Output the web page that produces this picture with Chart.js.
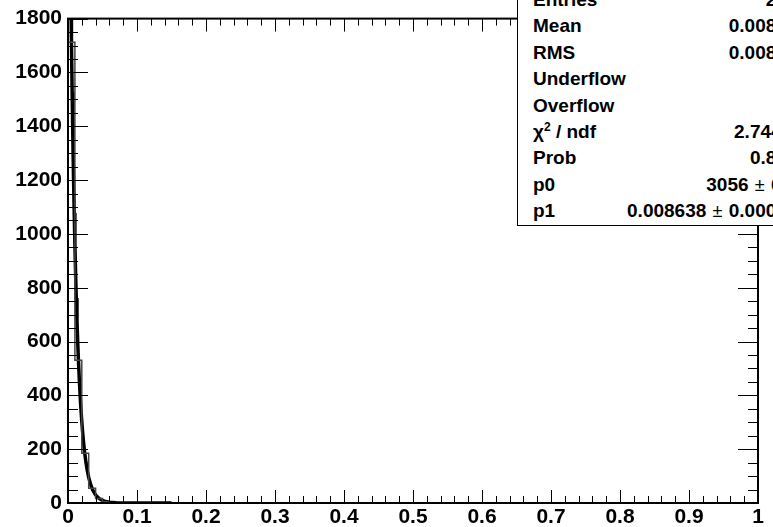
<!DOCTYPE html>
<html>
<head>
<meta charset="utf-8">
<script src="https://cdn.jsdelivr.net/npm/chart.js@4.4.1/dist/chart.umd.min.js"></script>
<style>
  html, body { margin: 0; padding: 0; background: #fff; overflow: hidden; }
  #wrap { position: relative; width: 773px; height: 527px; overflow: hidden; }
  #stats {
    position: absolute; left: 517px; top: -14px; width: 298px;
    background: #fff; border: 1.5px solid #000; box-sizing: border-box;
    padding: 0 6px 0 15px;
    font: bold 19px 'Liberation Sans', Arial, sans-serif; color: #000;
  }
  #stats .row { display: flex; justify-content: space-between; height: 26.4px; line-height: 26.4px; white-space: nowrap; }
  #stats .pm { font-weight: normal; font-size: 18px; margin: 0 1px; }
  #stats sup { font-size: 12px; line-height: 0; }
</style>
</head>
<body>
<div id="wrap">
  <canvas id="chart" width="773" height="527"></canvas>
  <div id="stats"></div>
</div>
<script>
// histogram: 100 bins of 0.01 on [0,1], only the first ones are filled
const binWidth = 0.01;
const xRange = [0, 1];
const binCounts = [1712, 530, 185, 55, 17, 5, 1, 0];

// fitted curve
const fitX = [0.0046, 0.005, 0.006, 0.007, 0.008, 0.009, 0.010, 0.011, 0.012, 0.013, 0.014, 0.015,
              0.0165, 0.018, 0.0195, 0.021, 0.0225, 0.024, 0.026, 0.028, 0.030, 0.033, 0.036,
              0.040, 0.045, 0.050, 0.055, 0.060, 0.070, 0.080, 0.100, 0.150];
const fitY = [1800, 1712, 1526, 1359, 1210, 1078, 960, 855, 762, 678, 604, 538,
              453, 380, 320, 269, 226, 190, 151, 120, 95, 67, 47,
              30, 17, 9.4, 5.3, 2.9, 0.9, 0.3, 0, 0];

// tick labels
const xTicks = [0, 0.1, 0.2, 0.3, 0.4, 0.5, 0.6, 0.7, 0.8, 0.9, 1];
const xTickLabels = ['0', '0.1', '0.2', '0.3', '0.4', '0.5', '0.6', '0.7', '0.8', '0.9', '1'];
const yTicks = [0, 200, 400, 600, 800, 1000, 1200, 1400, 1600, 1800];

// stats box
const statNames = ['Entries', 'Mean', 'RMS', 'Underflow', 'Overflow', 'χ<sup>2</sup> / ndf', 'Prob', 'p0', 'p1'];
const statValues = ['2493', '0.008612', '0.008395', '0', '0', '2.744 / 6', '0.8402', '3056 ± 61.8', '0.008638 ± 0.000175'];

const stats = document.getElementById('stats');
statNames.forEach((name, i) => {
  const row = document.createElement('div');
  row.className = 'row';
  const val = statValues[i].replace('±', '<span class="pm">±</span>');
  row.innerHTML = '<span>' + name + '</span><span>' + val + '</span>';
  stats.appendChild(row);
});

const histPoints = [{ x: 0, y: 0 }];
binCounts.forEach((c, i) => histPoints.push({ x: i * binWidth, y: c }));
histPoints.push({ x: binCounts.length * binWidth, y: 0 });
histPoints.push({ x: xRange[1], y: 0 });

const fitPoints = fitX.map((x, i) => ({ x: x, y: fitY[i] }));

// ROOT-like frame with inward ticks on all four sides
const framePlugin = {
  id: 'frame',
  afterDraw(chart) {
    const { ctx, chartArea: a, scales: { x, y } } = chart;
    ctx.save();
    ctx.strokeStyle = '#000';
    ctx.lineWidth = 1;
    ctx.beginPath();
    for (let i = 0; i <= 50; i++) {
      const px = Math.round(x.getPixelForValue(i * 0.02)) + 0.5;
      const len = i % 5 === 0 ? 13 : 7;
      ctx.moveTo(px, a.bottom); ctx.lineTo(px, a.bottom - len);
      ctx.moveTo(px, a.top); ctx.lineTo(px, a.top + len);
    }
    for (let i = 0; i <= 36; i++) {
      const py = Math.round(y.getPixelForValue(i * 50)) + 0.5;
      const len = i % 4 === 0 ? 20 : 10;
      ctx.moveTo(a.left, py); ctx.lineTo(a.left + len, py);
      ctx.moveTo(a.right, py); ctx.lineTo(a.right - len, py);
    }
    ctx.stroke();
    ctx.lineWidth = 2;
    ctx.strokeRect(a.left, a.top, a.right - a.left, a.bottom - a.top);
    ctx.restore();
  }
};

const tickFont = { family: "'Liberation Sans', Arial, sans-serif", size: 21, weight: 'bold' };

new Chart(document.getElementById('chart'), {
  type: 'line',
  data: {
    datasets: [{
      data: histPoints,
      stepped: true,
      borderColor: '#444',
      borderWidth: 1.5,
      pointRadius: 0,
      fill: false
    }, {
      data: fitPoints,
      borderColor: '#000',
      borderWidth: 3.5,
      pointRadius: 0,
      tension: 0,
      fill: false
    }]
  },
  options: {
    responsive: false,
    animation: false,
    devicePixelRatio: 1,
    layout: { padding: { left: 0, top: 16, right: 15, bottom: 0 } },
    plugins: { legend: { display: false }, tooltip: { enabled: false } },
    scales: {
      x: {
        type: 'linear',
        min: xRange[0], max: xRange[1],
        afterBuildTicks: (s) => { s.ticks = xTicks.map(v => ({ value: v })); },
        afterFit: (s) => { s.height = 24; },
        grid: { display: false, drawTicks: false },
        border: { display: false },
        ticks: {
          padding: 2, color: '#000', font: tickFont, maxRotation: 0,
          callback: (v) => xTickLabels[xTicks.indexOf(v)]
        }
      },
      y: {
        min: 0, max: 1800,
        afterBuildTicks: (s) => { s.ticks = yTicks.map(v => ({ value: v })); },
        afterFit: (s) => { s.width = 68; },
        grid: { display: false, drawTicks: false },
        border: { display: false },
        ticks: { padding: 6, color: '#000', font: tickFont, callback: (v) => String(v) }
      }
    }
  },
  plugins: [framePlugin]
});
</script>
</body>
</html>
